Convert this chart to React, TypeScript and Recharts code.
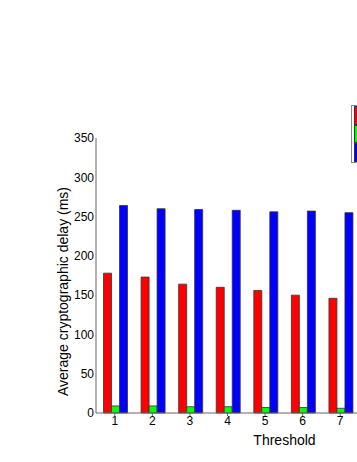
import { BarChart, Bar, XAxis, YAxis, Label } from 'recharts';

const thresholds = ['1', '2', '3', '4', '5', '6', '7'];
const schemeA = [178, 173, 164, 160, 156, 150, 146];
const schemeB = [9, 9, 8, 8, 7, 7, 6];
const schemeC = [264, 260, 259, 258, 256, 257, 255];
const yTicks = [0, 50, 100, 150, 200, 250, 300, 350];

const seriesNames = ['Scheme A', 'Scheme B', 'Scheme C'];
const seriesColors = ['#ff0000', '#00ff00', '#0000ff'];

const data = thresholds.map((t, i) => ({
  threshold: t,
  a: schemeA[i],
  b: schemeB[i],
  c: schemeC[i],
}));

const font = 'Liberation Sans, Arial, sans-serif';

// legend box sits at the top right, mostly past the visible edge
const LegendBox = () => (
  <div
    style={{
      position: 'absolute',
      left: 351,
      top: 105,
      zIndex: 10,
      border: '1px solid #888',
      background: '#fff',
      width: 110,
      fontFamily: font,
      fontSize: 12,
    }}
  >
    {seriesNames.map((name, i) => (
      <div key={name} style={{ display: 'flex', alignItems: 'center', height: 18.5 }}>
        <div
          style={{
            flex: '0 0 16px',
            width: 16,
            height: 18.5,
            marginLeft: 2,
            background: seriesColors[i],
            border: '1px solid #333',
            boxSizing: 'border-box',
          }}
        />
        <span style={{ marginLeft: 12, whiteSpace: 'nowrap' }}>{name}</span>
      </div>
    ))}
  </div>
);

export default function App() {
  return (
    <div
      style={{
        position: 'fixed',
        left: 0,
        top: 0,
        width: 357,
        height: 462,
        overflow: 'hidden',
        background: '#fff',
      }}
    >
      <BarChart
        width={370}
        height={462}
        data={data}
        margin={{ top: 138, right: 11, bottom: 8, left: 8 }}
        barGap={0}
        barCategoryGap="20%"
      >
        <XAxis
          dataKey="threshold"
          stroke="#666"
          tickSize={3}
          tick={{ fontSize: 12, fill: '#000', fontFamily: font }}
          tickMargin={0}
          height={41}
        >
          <Label
            value="Threshold"
            position="insideBottom"
            dx={57}
            offset={9}
            style={{ fontSize: 14, fill: '#000', fontFamily: font }}
          />
        </XAxis>
        <YAxis
          domain={[0, 350]}
          ticks={yTicks}
          stroke="#666"
          tickSize={0}
          tickMargin={2}
          width={88}
          tick={{ fontSize: 12, fill: '#000', fontFamily: font }}
        >
          <Label
            value="Average cryptographic delay (ms)"
            angle={-90}
            position="insideLeft"
            dx={50}
            dy={16}
            style={{ fontSize: 14, fill: '#000', fontFamily: font, textAnchor: 'middle' }}
          />
        </YAxis>
        <Bar dataKey="a" name={seriesNames[0]} fill={seriesColors[0]} stroke="#333" strokeWidth={0.8} isAnimationActive={false} />
        <Bar dataKey="b" name={seriesNames[1]} fill={seriesColors[1]} stroke="#333" strokeWidth={0.8} isAnimationActive={false} />
        <Bar dataKey="c" name={seriesNames[2]} fill={seriesColors[2]} stroke="#333" strokeWidth={0.8} isAnimationActive={false} />
      </BarChart>
      <LegendBox />
    </div>
  );
}
